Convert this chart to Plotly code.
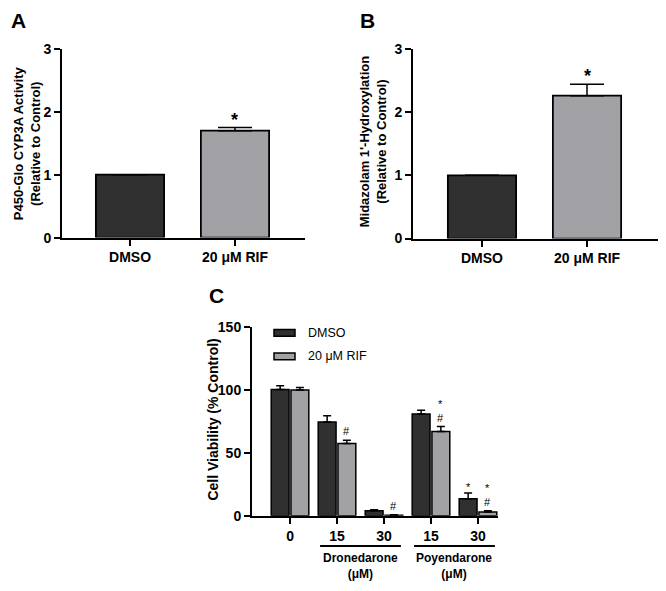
import plotly.graph_objects as go

# ---------------- data ----------------
a_cats = ["DMSO", "20 μM RIF"]
a_vals = [1.0, 1.70]
a_err = [0.0, 0.05]

b_cats = ["DMSO", "20 μM RIF"]
b_vals = [1.0, 2.26]
b_err = [0.0, 0.18]

c_ticks = ["0", "15", "30", "15", "30"]
c_dmso = [100.5, 74.5, 4.0, 81.0, 13.7]
c_dmso_err = [3.0, 5.0, 0.8, 3.0, 4.5]
c_rif = [100.0, 57.5, 0.5, 67.0, 3.0]
c_rif_err = [2.0, 2.5, 0.4, 4.0, 1.0]
c_dmso_marks = ["", "", "", "", "*"]
c_rif_marks = ["", "#", "#", "*<br>#", "*<br>#"]
c_drugs = ["Dronedarone<br>(μM)", "Poyendarone<br>(μM)"]

# ---------------- style ----------------
W, H = 666, 591
DARK = "#303030"
GRAY = "#a2a2a6"
FONT = "Liberation Sans, Arial, sans-serif"


def px_x(p):
    return p / W


def px_y(p):
    return 1 - p / H


fig = go.Figure()

# Panel A
fig.add_trace(go.Bar(
    x=[0, 1], y=a_vals, width=0.65, xaxis="x", yaxis="y",
    marker=dict(color=[DARK, GRAY], line=dict(color="black", width=1.8)),
    error_y=dict(type="data", symmetric=False, array=a_err, arrayminus=[0, 0],
                 color="black", thickness=1.5, width=17, visible=True),
    showlegend=False))

# Panel B
fig.add_trace(go.Bar(
    x=[0, 1], y=b_vals, width=0.65, xaxis="x2", yaxis="y2",
    marker=dict(color=[DARK, GRAY], line=dict(color="black", width=1.8)),
    error_y=dict(type="data", symmetric=False, array=b_err, arrayminus=[0, 0],
                 color="black", thickness=1.5, width=17, visible=True),
    showlegend=False))

# Panel C
cx = list(range(len(c_ticks)))
BW = 0.38
fig.add_trace(go.Bar(
    x=cx, y=c_dmso, width=BW, offset=-0.40, xaxis="x3", yaxis="y3", name="DMSO",
    marker=dict(color=DARK, line=dict(color="black", width=1.5)),
    error_y=dict(type="data", symmetric=False, array=c_dmso_err,
                 arrayminus=[0] * 5, color="black", thickness=1.5, width=4),
    showlegend=False))
fig.add_trace(go.Bar(
    x=cx, y=c_rif, width=BW, offset=0.02, xaxis="x3", yaxis="y3", name="20 μM RIF",
    marker=dict(color=GRAY, line=dict(color="black", width=1.5)),
    error_y=dict(type="data", symmetric=False, array=c_rif_err,
                 arrayminus=[0] * 5, color="black", thickness=1.5, width=4),
    showlegend=False))

axis_common = dict(showline=True, linecolor="black", linewidth=2, ticks="outside",
                   tickcolor="black", tickwidth=2, ticklen=6, showgrid=False,
                   zeroline=False,
                   tickfont=dict(family=FONT, size=14, color="black", weight="bold"))

fig.update_layout(
    width=W, height=H, margin=dict(l=0, r=0, t=0, b=0),
    paper_bgcolor="white", plot_bgcolor="white", barmode="overlay",
    font=dict(family=FONT, color="black"),
    xaxis=dict(domain=[px_x(62), px_x(305)], range=[-0.648, 1.667],
               tickvals=[0, 1], ticktext=a_cats, anchor="y", **axis_common),
    yaxis=dict(domain=[px_y(236), px_y(42)], range=[0, 3], tickvals=[0, 1, 2, 3],
               anchor="x", **axis_common),
    xaxis2=dict(domain=[px_x(413), px_x(658)], range=[-0.657, 1.676],
                tickvals=[0, 1], ticktext=b_cats, anchor="y2", **axis_common),
    yaxis2=dict(domain=[px_y(237), px_y(42)], range=[0, 3], tickvals=[0, 1, 2, 3],
                anchor="x2", **axis_common),
    xaxis3=dict(domain=[px_x(252), px_x(498)], range=[-0.809, 4.426],
                tickvals=cx, ticktext=c_ticks, anchor="y3", **axis_common),
    yaxis3=dict(domain=[px_y(522), px_y(328)], range=[0, 150],
                tickvals=[0, 50, 100, 150], anchor="x3", **axis_common),
)

ann = []
shapes = []

# panel letters
for letter, x, y in [("A", 18, 13), ("B", 367, 13), ("C", 216, 295)]:
    ann.append(dict(text=letter, x=px_x(x), y=px_y(y), xref="paper", yref="paper",
                    showarrow=False, xanchor="center", yanchor="middle",
                    font=dict(family=FONT, size=21, weight="bold")))

# y titles
for text, x, y, size in [
        ("P450-Glo CYP3A Activity<br>(Relative to Control)", 27, 139, 13),
        ("Midazolam 1'-Hydroxylation<br>(Relative to Control)", 373, 138, 13),
        ("Cell Viability (% Control)", 213, 423, 14)]:
    ann.append(dict(text=text, x=px_x(x), y=px_y(y), xref="paper", yref="paper",
                    showarrow=False, textangle=-90, xanchor="center", yanchor="middle",
                    font=dict(family=FONT, size=size, weight="bold")))

# significance stars A & B
ann.append(dict(text="*", x=1, y=a_vals[1] + a_err[1], xref="x", yref="y",
                showarrow=False, yanchor="bottom", yshift=-4,
                font=dict(family=FONT, size=18, weight="bold")))
ann.append(dict(text="*", x=1, y=b_vals[1] + b_err[1], xref="x2", yref="y2",
                showarrow=False, yanchor="bottom", yshift=-4,
                font=dict(family=FONT, size=18, weight="bold")))

# marks C
for i in cx:
    for marks, vals, errs, off in [(c_dmso_marks, c_dmso, c_dmso_err, -0.21),
                                   (c_rif_marks, c_rif, c_rif_err, 0.21)]:
        m = marks[i]
        if not m:
            continue
        ann.append(dict(text=m, x=i + off, y=vals[i] + errs[i], xref="x3", yref="y3",
                        showarrow=False, yanchor="bottom",
                        yshift=(1 if m.endswith("#") else -2),
                        font=dict(family=FONT, size=11, color="black")))

# drug group underlines and labels
for j, text in enumerate(c_drugs):
    lo, hi = 1 + 2 * j, 2 + 2 * j
    shapes.append(dict(type="line", xref="x3", yref="paper",
                       x0=lo - 0.36, x1=hi + 0.36, y0=px_y(553), y1=px_y(553),
                       line=dict(color="black", width=2)))
    ann.append(dict(text=text, x=(lo + hi) / 2, y=px_y(574), xref="x3", yref="paper",
                    showarrow=False, xanchor="center", yanchor="middle",
                    font=dict(family=FONT, size=12, weight="bold")))

# legend C
for name, col, y in [("DMSO", DARK, 334), ("20 μM RIF", GRAY, 358)]:
    shapes.append(dict(type="rect", xref="paper", yref="paper",
                       x0=px_x(274), x1=px_x(295), y0=px_y(y - 3.5), y1=px_y(y + 3.5),
                       fillcolor=col, line=dict(color="black", width=1.5)))
    ann.append(dict(text=name, x=px_x(306), y=px_y(y), xref="paper", yref="paper",
                    showarrow=False, xanchor="left", yanchor="middle",
                    font=dict(family=FONT, size=12.5)))

fig.update_layout(annotations=ann, shapes=shapes)
fig.write_html("out.html", config={"displayModeBar": False},
               post_script="document.body.style.margin='0';"
                           "document.body.style.overflow='hidden';")
